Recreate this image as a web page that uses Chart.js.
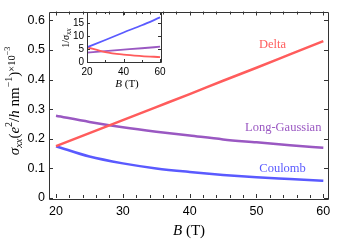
<!DOCTYPE html>
<html>
<head>
<meta charset="utf-8">
<script src="https://cdn.jsdelivr.net/npm/chart.js@4/dist/chart.umd.min.js"></script>
<style>
  html, body { margin: 0; padding: 0; background: #fff; }
  #wrap { position: relative; width: 339px; height: 241px; }
  #wrap canvas { position: absolute; left: 0; top: 0; }
</style>
</head>
<body>
<div id="wrap">
  <canvas id="mainChart" width="339" height="241"></canvas>
  <canvas id="insetChart" width="339" height="241"></canvas>
</div>
<script>
// main panel: sigma_xx (x 1e-3) vs B
const fieldB = [20, 25, 30, 35, 40, 45, 50, 55, 60];
const deltaSigma = [0.175, 0.219, 0.263, 0.307, 0.351, 0.396, 0.440, 0.485, 0.530];
const longGaussSigma = [0.278, 0.257, 0.239, 0.224, 0.211, 0.198, 0.188, 0.178, 0.170];
const coulombSigma = [0.175, 0.140, 0.117, 0.100, 0.088, 0.078, 0.070, 0.064, 0.058];
const xTicks = [20, 30, 40, 50, 60];
const yTicks = [0, 0.1, 0.2, 0.3, 0.4, 0.5, 0.6];

// inset: 1/sigma_xx vs B
const insetB = [20, 30, 40, 50, 60];
const insetCoulomb = [5.7, 8.5, 11.4, 14.2, 17.2];
const insetDelta = [5.7, 3.8, 2.85, 2.3, 1.9];
const insetLongGauss = [3.6, 4.2, 4.75, 5.3, 5.9];
const insetXTicks = [20, 40, 60];
const insetYTicks = [0, 5, 10, 15];

const seriesNames = ['Delta', 'Long-Gaussian', 'Coulomb'];
const seriesColors = ['#ff5c5c', '#9a58c2', '#5a5aff'];
const labelSpots = [[52.4, 0.517], [54.0, 0.236], [53.9, 0.099]];

const SERIF = '"Liberation Serif", "Times New Roman", serif';
const SANS = '"Liberation Sans", Arial, sans-serif';

function pts(xs, ys) {
  return xs.map((x, i) => ({ x: x, y: ys[i] }));
}

// draw text made of pieces with different size / style / vertical shift
function drawRich(ctx, pieces, cx, cy, rotate) {
  ctx.save();
  ctx.translate(cx, cy);
  if (rotate) ctx.rotate(-Math.PI / 2);
  ctx.textBaseline = 'middle';
  ctx.textAlign = 'left';
  ctx.fillStyle = '#000';
  let total = 0;
  pieces.forEach(p => {
    ctx.font = (p.italic ? 'italic ' : '') + p.size + 'px ' + SERIF;
    p.w = ctx.measureText(p.t).width;
    total += p.w;
  });
  let x = -total / 2;
  pieces.forEach(p => {
    ctx.font = (p.italic ? 'italic ' : '') + p.size + 'px ' + SERIF;
    ctx.fillText(p.t, x, p.dy || 0);
    x += p.w;
  });
  ctx.restore();
}

function frameTicks(chart, opts) {
  const ctx = chart.ctx;
  const a = chart.chartArea;
  const xs = chart.scales.x, ys = chart.scales.y;
  ctx.save();
  ctx.strokeStyle = '#333';
  ctx.lineWidth = 1;
  ctx.beginPath();
  ctx.rect(Math.round(a.left) + 0.5, Math.round(a.top) + 0.5,
           Math.round(a.right - a.left), Math.round(a.bottom - a.top));
  ctx.stroke();
  ctx.beginPath();
  opts.xMinor.forEach(v => {
    const px = Math.round(xs.getPixelForValue(v)) + 0.5;
    const len = opts.xMajor.includes(v) ? opts.major : opts.minor;
    ctx.moveTo(px, a.bottom); ctx.lineTo(px, a.bottom - len);
    ctx.moveTo(px, a.top); ctx.lineTo(px, a.top + len);
  });
  opts.yMajor.forEach(v => {
    const py = Math.round(ys.getPixelForValue(v)) + 0.5;
    ctx.moveTo(a.left, py); ctx.lineTo(a.left + opts.major, py);
    ctx.moveTo(a.right, py); ctx.lineTo(a.right - opts.major, py);
  });
  ctx.stroke();
  ctx.restore();
}

const mainDecor = {
  id: 'mainDecor',
  afterDraw(chart) {
    const ctx = chart.ctx;
    const minor = [];
    for (let v = 20; v <= 60; v += 2) minor.push(v);
    frameTicks(chart, { xMinor: minor, xMajor: xTicks, yMajor: yTicks, major: 4, minor: 3 });

    // curve labels
    ctx.save();
    ctx.font = '12.5px ' + SERIF;
    ctx.textAlign = 'center';
    ctx.textBaseline = 'middle';
    seriesNames.forEach((n, i) => {
      ctx.fillStyle = seriesColors[i];
      ctx.fillText(n, chart.scales.x.getPixelForValue(labelSpots[i][0]),
                   chart.scales.y.getPixelForValue(labelSpots[i][1]));
    });
    ctx.restore();

    // y title: sigma_xx (e^2/h nm^-1) x10^-3
    drawRich(ctx, [
      { t: 'σ', size: 15, italic: true },
      { t: 'xx', size: 10.5, italic: true, dy: 4 },
      { t: '(', size: 15 },
      { t: 'e', size: 15, italic: true },
      { t: '2', size: 10, dy: -6 },
      { t: '/', size: 15 },
      { t: 'h', size: 15, italic: true },
      { t: ' nm', size: 15 },
      { t: '−1', size: 10, dy: -6 },
      { t: ')', size: 15 },
      { t: '×10', size: 10.5, dy: -3 },
      { t: '−3', size: 8, dy: -7 }
    ], 15, 101, true);

    // x title
    drawRich(ctx, [
      { t: 'B', size: 15, italic: true },
      { t: ' (T)', size: 15 }
    ], 189, 231, false);
  }
};

const insetDecor = {
  id: 'insetDecor',
  afterDraw(chart) {
    frameTicks(chart, { xMinor: [20, 30, 40, 50, 60], xMajor: insetXTicks, yMajor: insetYTicks, major: 3, minor: 2 });
    drawRich(chart.ctx, [
      { t: '1/', size: 10 },
      { t: 'σ', size: 10, italic: true },
      { t: 'xx', size: 7.5, italic: true, dy: 3 }
    ], 66, 38, true);
    drawRich(chart.ctx, [
      { t: 'B', size: 11, italic: true },
      { t: ' (T)', size: 11 }
    ], 127, 84, false);
  }
};

function lineSet(data, color, width) {
  return {
    data: data,
    borderColor: color,
    borderWidth: width,
    pointRadius: 0,
    fill: false,
    cubicInterpolationMode: 'monotone'
  };
}

new Chart(document.getElementById('mainChart').getContext('2d'), {
  type: 'line',
  data: {
    datasets: [
      lineSet(pts(fieldB, deltaSigma), seriesColors[0], 2.5),
      lineSet(pts(fieldB, longGaussSigma), seriesColors[1], 2.5),
      lineSet(pts(fieldB, coulombSigma), seriesColors[2], 2.5)
    ]
  },
  options: {
    responsive: false,
    animation: false,
    devicePixelRatio: 1,
    layout: { padding: { top: 3, right: 11, left: 0, bottom: 0 } },
    plugins: { legend: { display: false }, tooltip: { enabled: false } },
    scales: {
      x: {
        type: 'linear', min: 18.95, max: 60.7,
        grid: { display: false, drawTicks: false },
        border: { display: false },
        afterBuildTicks: s => { s.ticks = xTicks.map(v => ({ value: v })); },
        afterFit: s => { s.height = 43; },
        ticks: { padding: 6, color: '#000', font: { family: SANS, size: 12.5 }, maxRotation: 0 }
      },
      y: {
        type: 'linear', min: 0, max: 0.63,
        grid: { display: false, drawTicks: false },
        border: { display: false },
        afterBuildTicks: s => { s.ticks = yTicks.map(v => ({ value: v })); },
        afterFit: s => { s.width = 49; },
        ticks: { padding: 4, color: '#000', font: { family: SANS, size: 12.5 } }
      }
    }
  },
  plugins: [mainDecor]
});

new Chart(document.getElementById('insetChart').getContext('2d'), {
  type: 'line',
  data: {
    datasets: [
      lineSet(pts(insetB, insetCoulomb), seriesColors[2], 1.8),
      lineSet(pts(insetB, insetDelta), seriesColors[0], 1.8),
      lineSet(pts(insetB, insetLongGauss), seriesColors[1], 1.8)
    ]
  },
  options: {
    responsive: false,
    animation: false,
    devicePixelRatio: 1,
    layout: { padding: { top: 12, right: 178, left: 60, bottom: 146 } },
    plugins: { legend: { display: false }, tooltip: { enabled: false } },
    scales: {
      x: {
        type: 'linear', min: 20, max: 60.5,
        grid: { display: false, drawTicks: false },
        border: { display: false },
        afterBuildTicks: s => { s.ticks = insetXTicks.map(v => ({ value: v })); },
        afterFit: s => { s.height = 33; },
        ticks: { padding: 4, color: '#000', font: { family: SANS, size: 10 }, maxRotation: 0 }
      },
      y: {
        type: 'linear', min: 0, max: 19.3,
        grid: { display: false, drawTicks: false },
        border: { display: false },
        afterBuildTicks: s => { s.ticks = insetYTicks.map(v => ({ value: v })); },
        afterFit: s => { s.width = 27; },
        ticks: { padding: 3, color: '#000', font: { family: SANS, size: 10 } }
      }
    }
  },
  plugins: [insetDecor]
});
</script>
</body>
</html>
